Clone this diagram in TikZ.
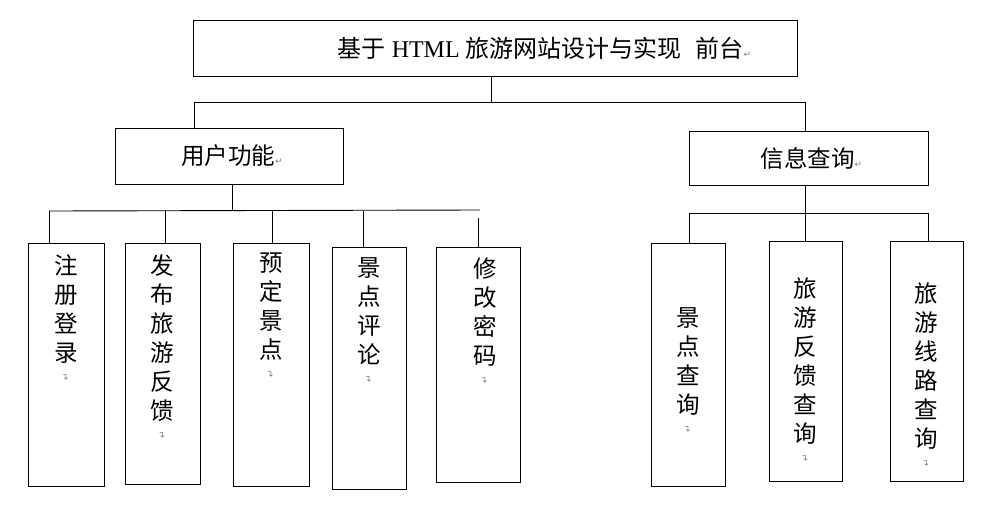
\documentclass[tikz,border=0pt]{standalone}
\usepackage{fontspec}
\setmainfont{Liberation Serif}
\newfontfamily\cjk{Noto Sans CJK SC}
\newfontfamily\symb{DejaVu Sans}
\usetikzlibrary{positioning}

\newcommand{\pmark}{{\symb\fontsize{9}{9}\selectfont\textcolor{gray}{↵}}}
\newcommand{\vmark}{\rotatebox{90}{\pmark}}

\tikzset{
  box/.style={draw, line width=0.9pt, inner sep=0pt},
  headbox/.style={box, minimum height=56pt, font=\fontsize{23.5}{29}\selectfont},
  leaf/.style={box, minimum width=75pt, minimum height=242pt},
  htext/.style={font=\fontsize{24}{29}\selectfont, inner sep=0pt},
  vtext/.style={font=\cjk\fontsize{23.5}{29}\selectfont, align=center, inner sep=0pt},
  link/.style={line width=0.9pt}
}

\begin{document}
\begin{tikzpicture}[x=1pt, y=-1pt]
  \useasboundingbox (0,0) rectangle (991,504);

  % top level
  \node[headbox, minimum width=604pt] (top) at (495,48) {};
  \node[htext, anchor=west] (toptext) at ([xshift=145pt]top.west)
    {{\cjk 基于} HTML {\cjk 旅游网站设计与实现}\hspace{14pt}{\cjk 前台}\pmark};

  % second level
  \node[headbox, minimum width=228pt] (user) at (229,156)
    {\hspace{6pt}{\cjk 用户功能}\pmark};
  \node[headbox, minimum width=239pt, minimum height=54pt] (info) at (808.5,158)
    {\hspace{6pt}{\cjk 信息查询}\pmark};

  % user functions
  \node[leaf, minimum width=76pt, minimum height=243pt] (reg)  at (66,364.5) {};
  \node[leaf, minimum height=241pt] (post) at (162.5,363.5) {};
  \node[leaf, minimum width=76pt, minimum height=243pt] (book) at (271,364.5) {};
  \node[leaf, minimum width=74pt] (comm) at (369,368) {};
  \node[leaf, minimum width=84pt, minimum height=235pt] (pwd)  at (478,364.5) {};

  \node[vtext, below=12pt of reg.north]  {注\\册\\登\\录\\[-10pt]\vmark};
  \node[vtext, below=12pt of post.north] {发\\布\\旅\\游\\反\\馈\\[-10pt]\vmark};
  \node[vtext, below=10pt of book.north] {预\\定\\景\\点\\[-10pt]\vmark};
  \node[vtext, below=11pt of comm.north] {景\\点\\评\\论\\[-10pt]\vmark};
  \node[vtext, below=11pt of pwd.north, xshift=7pt] {修\\改\\密\\码\\[-10pt]\vmark};

  % info queries
  \node[leaf, minimum width=74pt, minimum height=243pt] (spot)  at (688,364.5) {};
  \node[leaf, minimum width=73pt, minimum height=240pt] (fback) at (805.5,361) {};
  \node[leaf, minimum width=73pt, minimum height=240pt] (route) at (926.5,361) {};

  \node[vtext, below=65pt of spot.north]  {景\\点\\查\\询\\[-10pt]\vmark};
  \node[vtext, below=37pt of fback.north] {旅\\游\\反\\馈\\查\\询\\[-10pt]\vmark};
  \node[vtext, below=42pt of route.north] {旅\\游\\线\\路\\查\\询\\[-10pt]\vmark};

  % bus lines
  \coordinate (b0l) at (194,102);
  \coordinate (b0r) at (805,102);
  \coordinate (b1l) at (49,211);
  \coordinate (b1r) at (480,210);
  \coordinate (d2) at (165,211);
  \coordinate (d3) at (272,211);
  \coordinate (d4) at (363,211);
  \coordinate (d5) at (478,218);
  \coordinate (b2l) at (689,213);
  \coordinate (b2r) at (928,213);

  \draw[link] (top.south -| 491,0) -- (b0r -| 491,0);
  \draw[link] (b0l) -- (b0r);
  \draw[link] (b0l) -- (b0l |- user.north);
  \draw[link] (b0r) -- (b0r |- info.north);

  \draw[link] (user.south -| 232,0) -- (b1l -| 232,0);
  \draw[link] (b1l) -- (b1r);
  \draw[link] (b1l) -- (b1l |- reg.north);
  \draw[link] (d2) -- (d2 |- post.north);
  \draw[link] (d3) -- (d3 |- book.north);
  \draw[link] (d4) -- (d4 |- comm.north);
  \draw[link] (d5) -- (d5 |- pwd.north);

  \draw[link] (info.south -| b0r) -- (b0r |- b2l);
  \draw[link] (b2l) -- (b2r);
  \draw[link] (b2l) -- (b2l |- spot.north);
  \draw[link] (b0r |- b2l) -- (b0r |- fback.north);
  \draw[link] (b2r) -- (b2r |- route.north);
\end{tikzpicture}
\end{document}
